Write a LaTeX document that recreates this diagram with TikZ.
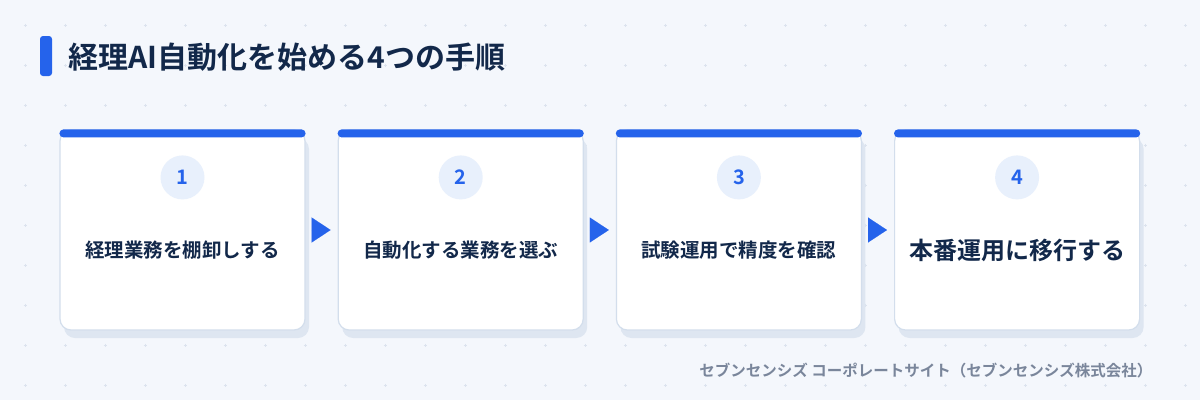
\documentclass[tikz,border=0pt]{standalone}
\usepackage{fontspec}
\setmainfont{Noto Sans CJK JP}[BoldFont={Noto Sans CJK JP Bold}]
\usetikzlibrary{positioning,arrows.meta}

\definecolor{pagebg}{HTML}{F4F7FC}
\definecolor{gridmark}{HTML}{DCE3EE}
\definecolor{accent}{HTML}{2563EB}
\definecolor{ink}{HTML}{12284A}
\definecolor{cardline}{HTML}{D3DEEC}
\definecolor{cardshade}{HTML}{DEE6F1}
\definecolor{discfill}{HTML}{E8F0FC}
\definecolor{footgray}{HTML}{7A869B}

\begin{document}
\begin{tikzpicture}[x=1pt,y=-1pt,thick,node distance=32pt,
  card/.style={rectangle,minimum width=245pt,minimum height=200pt,inner sep=0pt,
    rounded corners=11pt,fill=white,draw=cardline,line width=1.2pt,
    preaction={fill=cardshade,draw=none,transform canvas={shift={(4pt,-8pt)}}}},
  numdisc/.style={circle,minimum size=44pt,inner sep=0pt,fill=discfill,
    text=accent,font=\bfseries\fontsize{20pt}{22pt}\selectfont},
  steptext/.style={text=ink,font=\bfseries\fontsize{19.5pt}{22pt}\selectfont},
  bigtext/.style={text=ink,font=\bfseries\fontsize{24pt}{28pt}\selectfont},
  flow/.style={draw=accent,fill=accent,line width=0.1pt,shorten <=7pt,shorten >=7pt,
    -{Triangle[length=19pt,width=25pt]}}]

  % background and dot grid
  \fill[pagebg] (0,0) rectangle (1200,400);
  \useasboundingbox (0,0) rectangle (1200,400);
  \foreach \gx in {0,...,29}
    \foreach \gy in {0,...,9}
      \draw[gridmark,line width=0.6pt]
        ({25+40*\gx-1.5},{25+40*\gy}) -- ++(3,0)
        ({25+40*\gx},{25+40*\gy-1.5}) -- ++(0,3);

  % title
  \fill[accent,rounded corners=3pt] (40,36) rectangle (52,76);
  \node[anchor=west,text=ink,font=\bfseries\fontsize{30pt}{34pt}\selectfont] (title) at (65,57)
    {経理AI自動化を始める4つの手順};

  % cards
  \node[card] (c1) at (182.5,230) {};
  \node[card] (c2) [right=of c1] {};
  \node[card] (c3) [right=of c2] {};
  \node[card] (c4) [right=of c3] {};

  \foreach \c in {c1,c2,c3,c4}
    \fill[accent,rounded corners=4pt] (\c.north west) rectangle ([yshift=-8pt]\c.north east);

  \node[numdisc] (n1) at ([yshift=-48pt]c1.north) {1};
  \node[numdisc] (n2) at ([yshift=-48pt]c2.north) {2};
  \node[numdisc] (n3) at ([yshift=-48pt]c3.north) {3};
  \node[numdisc] (n4) at ([yshift=-48pt]c4.north) {4};

  \node[steptext] (t1) at ([yshift=-20pt]c1.center) {経理業務を棚卸しする};
  \node[steptext] (t2) at ([yshift=-20pt]c2.center) {自動化する業務を選ぶ};
  \node[steptext] (t3) at ([yshift=-20pt]c3.center) {試験運用で精度を確認};
  \node[bigtext] (t4) at ([yshift=-20pt]c4.center) {本番運用に移行する};

  \path
  (c1.east) edge[flow] (c2.west)
  (c2.east) edge[flow] (c3.west)
  (c3.east) edge[flow] (c4.west);

  % footer
  \node[anchor=east,text=footgray,font=\bfseries\fontsize{15.5pt}{18pt}\selectfont] (foot) at (1156,371)
    {セブンセンシズ コーポレートサイト（セブンセンシズ株式会社）};

\end{tikzpicture}
\end{document}
